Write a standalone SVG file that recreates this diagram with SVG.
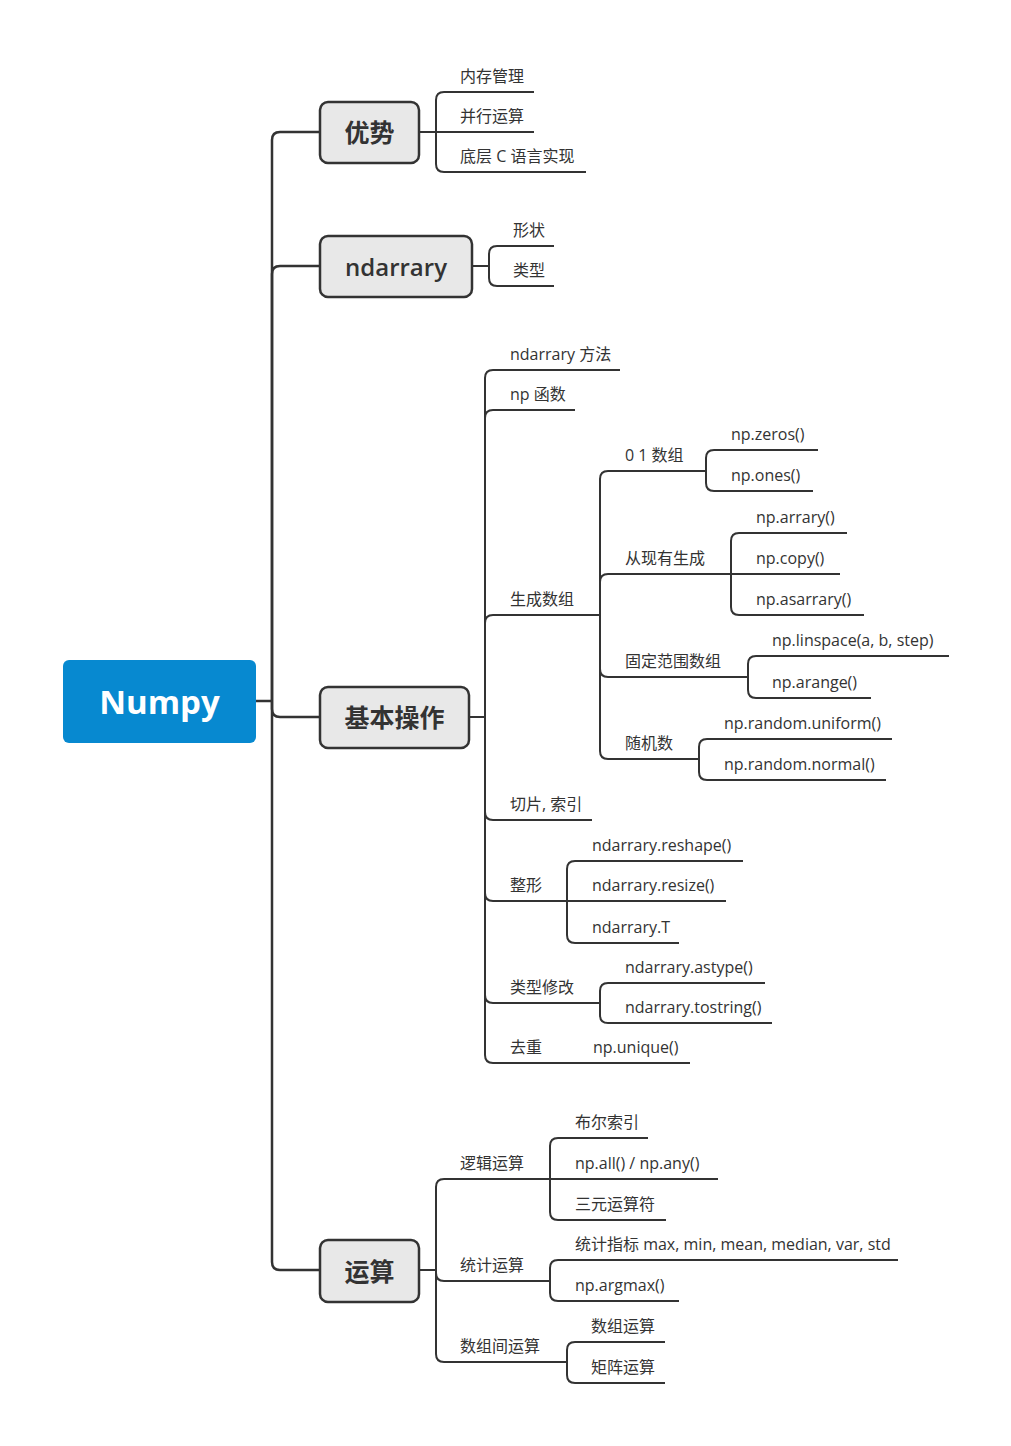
<svg xmlns="http://www.w3.org/2000/svg" width="1011" height="1446" viewBox="0 0 1011 1446">
<style>
.bg{fill:#ffffff}
.c{fill:none;stroke:#333333;stroke-width:2;stroke-linecap:butt}
.root{fill:#0789d0}
.n{fill:#e8e8e8;stroke:#333333;stroke-width:2.5}
.nt{font-family:"Open Sans","Noto Sans CJK SC",sans-serif;font-size:25px;font-weight:bold;fill:#333333;text-anchor:middle;dominant-baseline:central}
.rt{font-family:"Open Sans","Noto Sans CJK SC",sans-serif;font-size:33px;font-weight:bold;fill:#ffffff;text-anchor:middle;dominant-baseline:central}
.l{font-family:"Open Sans","Noto Sans CJK SC",sans-serif;font-size:16px;fill:#333333}
</style>
<rect class="bg" x="0" y="0" width="1011" height="1446"/>
<g id="connectors">
<path class="c" style="stroke-width:2.5" d="M256 701H272"/>
<path class="c" style="stroke-width:2.5" d="M272 701V140Q272 132 280 132H320"/>
<path class="c" style="stroke-width:2.5" d="M272 701V274Q272 266 280 266H320"/>
<path class="c" style="stroke-width:2.5" d="M272 701V709Q272 717 280 717H320"/>
<path class="c" style="stroke-width:2.5" d="M272 701V1262Q272 1270 280 1270H320"/>
<path class="c" d="M419 132H534"/>
<path class="c" d="M436 132V100Q436 92 444 92H534"/>
<path class="c" d="M436 132V164Q436 172 444 172H586"/>
<path class="c" d="M472 266H489"/>
<path class="c" d="M489 266V254Q489 246 497 246H554"/>
<path class="c" d="M489 266V278Q489 286 497 286H554"/>
<path class="c" d="M469 717H485"/>
<path class="c" d="M485 717V378Q485 370 493 370H620"/>
<path class="c" d="M485 717V418Q485 410 493 410H575"/>
<path class="c" d="M485 717V623Q485 615 493 615H600"/>
<path class="c" d="M485 717V812Q485 820 493 820H592"/>
<path class="c" d="M485 717V893Q485 901 493 901H567"/>
<path class="c" d="M485 717V995Q485 1003 493 1003H600"/>
<path class="c" d="M485 717V1055Q485 1063 493 1063H690"/>
<path class="c" d="M600 615V479Q600 471 608 471H706"/>
<path class="c" d="M600 615V582Q600 574 608 574H731"/>
<path class="c" d="M600 615V669Q600 677 608 677H748"/>
<path class="c" d="M600 615V751Q600 759 608 759H699"/>
<path class="c" d="M706 471V458Q706 450 714 450H818"/>
<path class="c" d="M706 471V483Q706 491 714 491H813"/>
<path class="c" d="M731 574V541Q731 533 739 533H847"/>
<path class="c" d="M731 574H840"/>
<path class="c" d="M731 574V607Q731 615 739 615H864"/>
<path class="c" d="M748 677V664Q748 656 756 656H949"/>
<path class="c" d="M748 677V690Q748 698 756 698H871"/>
<path class="c" d="M699 759V747Q699 739 707 739H892"/>
<path class="c" d="M699 759V772Q699 780 707 780H886"/>
<path class="c" d="M567 901V869Q567 861 575 861H743"/>
<path class="c" d="M567 901H726"/>
<path class="c" d="M567 901V935Q567 943 575 943H679"/>
<path class="c" d="M600 1003V991Q600 983 608 983H765"/>
<path class="c" d="M600 1003V1015Q600 1023 608 1023H772"/>
<path class="c" d="M419 1270H436"/>
<path class="c" d="M436 1270V1187Q436 1179 444 1179H550"/>
<path class="c" d="M436 1270V1273Q436 1281 444 1281H550"/>
<path class="c" d="M436 1270V1354Q436 1362 444 1362H567"/>
<path class="c" d="M550 1179V1146Q550 1138 558 1138H648"/>
<path class="c" d="M550 1179H718"/>
<path class="c" d="M550 1179V1212Q550 1220 558 1220H666"/>
<path class="c" d="M550 1281V1268Q550 1260 558 1260H898"/>
<path class="c" d="M550 1281V1293Q550 1301 558 1301H679"/>
<path class="c" d="M567 1362V1350Q567 1342 575 1342H665"/>
<path class="c" d="M567 1362V1375Q567 1383 575 1383H665"/>
</g>
<g id="numpy"><rect class="root" x="63" y="660" width="193" height="83" rx="6"/><text class="rt" x="159.5" y="701">Numpy</text></g>
<g id="youshi"><rect class="n" x="320" y="102" width="99" height="61" rx="8"/><text class="nt" x="369.5" y="132">优势</text></g>
<g id="ndarrary"><rect class="n" x="320" y="236" width="152" height="61" rx="8"/><text class="nt" style="font-weight:600;font-size:24px" x="396" y="266">ndarrary</text></g>
<g id="jiben"><rect class="n" x="320" y="687" width="149" height="61" rx="8"/><text class="nt" x="394.5" y="717">基本操作</text></g>
<g id="yunsuan"><rect class="n" x="320" y="1240" width="99" height="62" rx="8"/><text class="nt" x="369.5" y="1271">运算</text></g>
<g id="leaves">
<text class="l" x="460" y="82">内存管理</text>
<text class="l" x="460" y="122">并行运算</text>
<text class="l" x="460" y="162">底层 C 语言实现</text>
<text class="l" x="513" y="236">形状</text>
<text class="l" x="513" y="276">类型</text>
<text class="l" x="510" y="360">ndarrary 方法</text>
<text class="l" x="510" y="400">np 函数</text>
<text class="l" x="510" y="605">生成数组</text>
<text class="l" x="510" y="810">切片, 索引</text>
<text class="l" x="510" y="891">整形</text>
<text class="l" x="510" y="993">类型修改</text>
<text class="l" x="510" y="1053">去重</text>
<text class="l" x="593" y="1053">np.unique()</text>
<text class="l" x="625" y="461">0 1 数组</text>
<text class="l" x="625" y="564">从现有生成</text>
<text class="l" x="625" y="667">固定范围数组</text>
<text class="l" x="625" y="749">随机数</text>
<text class="l" x="731" y="440">np.zeros()</text>
<text class="l" x="731" y="481">np.ones()</text>
<text class="l" x="756" y="523">np.arrary()</text>
<text class="l" x="756" y="564">np.copy()</text>
<text class="l" x="756" y="605">np.asarrary()</text>
<text class="l" x="772" y="646">np.linspace(a, b, step)</text>
<text class="l" x="772" y="688">np.arange()</text>
<text class="l" x="724" y="729">np.random.uniform()</text>
<text class="l" x="724" y="770">np.random.normal()</text>
<text class="l" x="592" y="851">ndarrary.reshape()</text>
<text class="l" x="592" y="891">ndarrary.resize()</text>
<text class="l" x="592" y="933">ndarrary.T</text>
<text class="l" x="625" y="973">ndarrary.astype()</text>
<text class="l" x="625" y="1013">ndarrary.tostring()</text>
<text class="l" x="460" y="1169">逻辑运算</text>
<text class="l" x="460" y="1271">统计运算</text>
<text class="l" x="460" y="1352">数组间运算</text>
<text class="l" x="575" y="1128">布尔索引</text>
<text class="l" x="575" y="1169">np.all() / np.any()</text>
<text class="l" x="575" y="1210">三元运算符</text>
<text class="l" x="575" y="1250">统计指标 max, min, mean, median, var, std</text>
<text class="l" x="575" y="1291">np.argmax()</text>
<text class="l" x="591" y="1332">数组运算</text>
<text class="l" x="591" y="1373">矩阵运算</text>
</g>
</svg>
